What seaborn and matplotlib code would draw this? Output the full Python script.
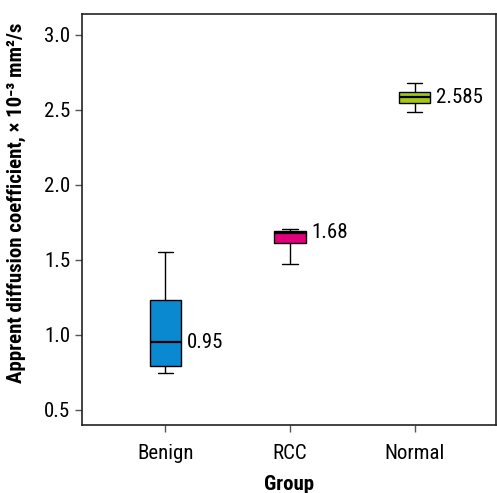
import matplotlib
matplotlib.use("Agg")
import matplotlib.pyplot as plt
import pandas as pd
import seaborn as sns

# five-number summaries (min, Q1, median, Q3, max)
groups = ["Benign", "RCC", "Normal"]
benign = [0.745, 0.79, 0.95, 1.23, 1.55]
rcc = [1.475, 1.61, 1.68, 1.69, 1.705]
normal = [2.485, 2.545, 2.585, 2.62, 2.68]
median_labels = ["0.95", "1.68", "2.585"]
box_colors = ["#0A88D0", "#E2007C", "#A6C814"]
y_ticks = [0.5, 1.0, 1.5, 2.0, 2.5, 3.0]

sns.set_theme(style="white")
plt.rcParams["font.family"] = ["Roboto Condensed", "DejaVu Sans"]
plt.rcParams.update({"text.color": "black", "axes.labelcolor": "black",
                     "xtick.labelcolor": "black", "ytick.labelcolor": "black"})

df = pd.DataFrame({
    "Group": [g for g, vals in zip(groups, [benign, rcc, normal]) for _ in vals],
    "ADC": benign + rcc + normal,
})

fig = plt.figure(figsize=(4.97, 4.93), dpi=100)
ax = fig.add_axes([0.165, 0.138, 0.832, 0.834])

sns.boxplot(data=df, x="Group", y="ADC", hue="Group", order=groups,
            palette=dict(zip(groups, box_colors)), legend=False, saturation=1,
            whis=(0, 100), width=0.25, linewidth=1, linecolor="black",
            medianprops={"linewidth": 1.6}, ax=ax)

for i, (vals, lab) in enumerate(zip([benign, rcc, normal], median_labels)):
    ax.text(i + 0.17, vals[2], lab, ha="left", va="center", fontsize=15)

ax.set_ylim(0.4, 3.14)
ax.set_xlim(-0.67, 2.65)
ax.set_yticks(y_ticks)
ax.set_yticklabels([f"{t:.1f}" for t in y_ticks])
ax.tick_params(axis="both", direction="out", length=5, width=1,
               color="#555555", labelsize=15, left=True, bottom=True)
ax.tick_params(axis="x", pad=9)
ax.set_xlabel("Group", fontsize=15, fontweight="bold", labelpad=8)
ax.set_ylabel("Apprent diffusion coefficient, \u00d7 10\u207b\u00b3 mm\u00b2/s",
              fontsize=15, fontweight="bold")
ax.yaxis.set_label_coords(-0.135, 0.54)
for sp in ax.spines.values():
    sp.set_color("#222222")
    sp.set_linewidth(1.2)

fig.savefig("out.png", dpi=100)
